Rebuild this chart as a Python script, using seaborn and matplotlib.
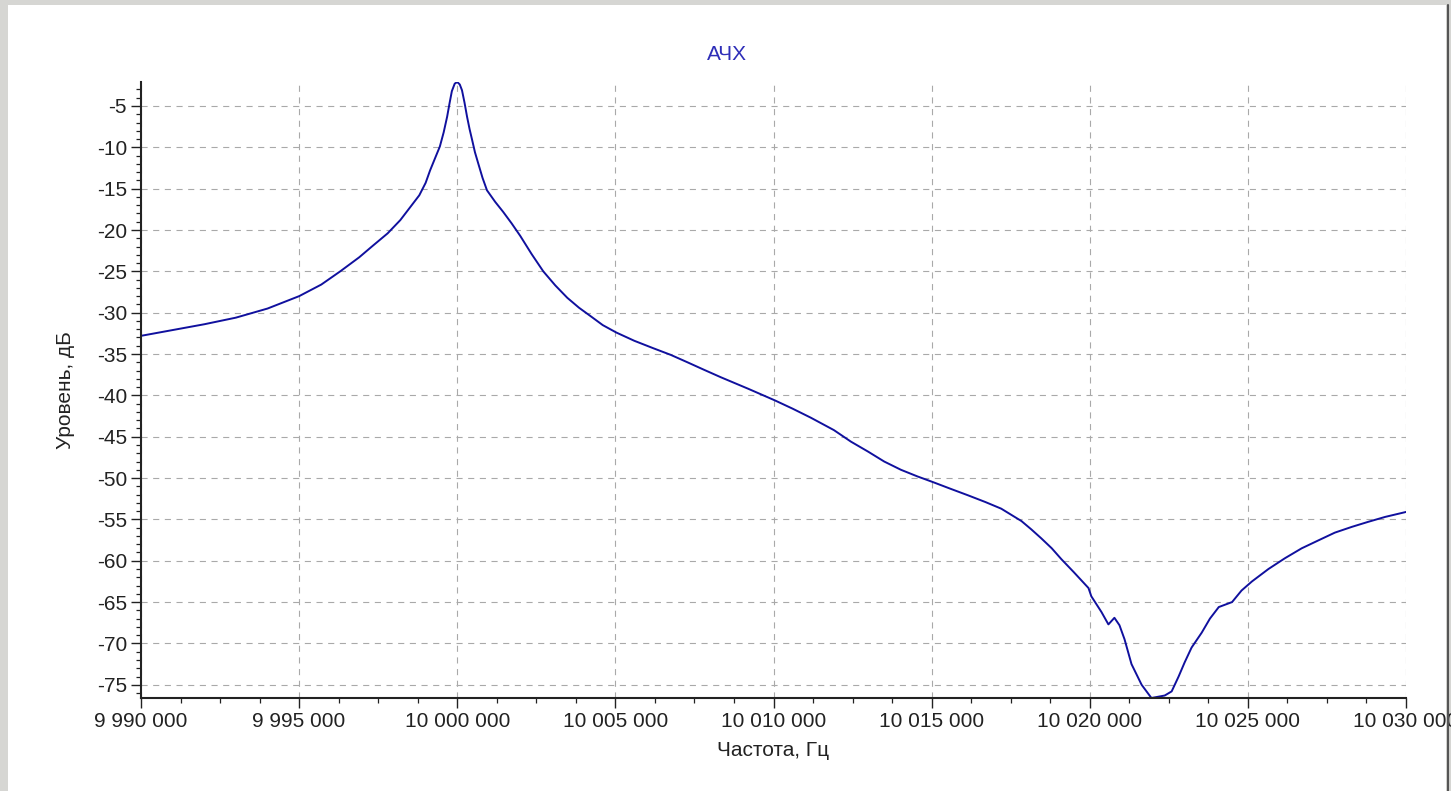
import matplotlib
matplotlib.use("Agg")
import matplotlib.pyplot as plt
import matplotlib.ticker as mticker
from matplotlib.patches import Rectangle
from matplotlib.lines import Line2D
import pandas as pd
import seaborn as sns

# Frequency response
freq_hz = [
    9990000, 9991000, 9992000, 9993000, 9994000, 9995000, 9995700, 9996300,
    9996900, 9997300, 9997800, 9998200, 9998500, 9998800, 9999000, 9999140,
    9999300, 9999450, 9999570, 9999680, 9999760, 9999830, 9999920, 10000000,
    10000080, 10000150, 10000230, 10000310, 10000390, 10000470, 10000560,
    10000660, 10000800, 10000940, 10001200, 10001450, 10001720, 10001990,
    10002350, 10002720, 10003100, 10003480, 10003850, 10004210, 10004600,
    10005030, 10005600, 10006200, 10006750, 10007280, 10007800, 10008330,
    10009200, 10010040, 10010600, 10011180, 10011910, 10012450, 10012990,
    10013500, 10014030, 10014550, 10015050, 10015600, 10016160, 10016700,
    10017200, 10017840, 10018150, 10018470, 10018800, 10019100, 10019500,
    10019960, 10020050, 10020370, 10020590, 10020780, 10020940, 10021100,
    10021320, 10021640, 10021950, 10022370, 10022590, 10022810, 10023000,
    10023220, 10023540, 10023800, 10024080, 10024500, 10024800, 10025130,
    10025650, 10026170, 10026700, 10027250, 10027750, 10028290, 10028800,
    10029340, 10030000,
]
level_db = [
    -32.8, -32.1, -31.4, -30.6, -29.5, -28.0, -26.6, -25.0,
    -23.3, -22.0, -20.4, -18.8, -17.3, -15.8, -14.3, -12.8,
    -11.3, -9.9, -8.2, -6.3, -4.6, -3.2, -2.3, -2.1,
    -2.4, -3.1, -4.6, -6.3, -7.8, -9.1, -10.6,
    -11.9, -13.7, -15.2, -16.6, -17.8, -19.2, -20.7,
    -22.9, -25.0, -26.7, -28.2, -29.4, -30.4, -31.5,
    -32.4, -33.4, -34.3, -35.1, -36.0, -36.9, -37.8,
    -39.2, -40.6, -41.6, -42.7, -44.2, -45.6, -46.8,
    -48.0, -49.0, -49.8, -50.5, -51.3, -52.1, -52.9,
    -53.7, -55.2, -56.2, -57.3, -58.5, -59.8, -61.4,
    -63.3, -64.3, -66.2, -67.7, -66.9, -67.8, -69.5,
    -72.5, -75.0, -76.6, -76.3, -75.8, -74.0, -72.3,
    -70.5, -68.7, -67.0, -65.6, -65.0, -63.6, -62.5,
    -61.0, -59.7, -58.5, -57.5, -56.6, -55.9, -55.3,
    -54.7, -54.1,
]

y_ticks = [-75, -70, -65, -60, -55, -50, -45, -40, -35, -30, -25, -20, -15, -10, -5]
x_ticks = [9990000, 9995000, 10000000, 10005000, 10010000, 10015000, 10020000, 10025000, 10030000]

df = pd.DataFrame({"freq": freq_hz, "level": level_db})

sns.set_style("ticks")
plt.rcParams["font.family"] = ["Liberation Sans", "DejaVu Sans"]

fig = plt.figure(figsize=(14.51, 7.91), dpi=100, facecolor="#d6d6d3")
# white panel inside the grey frame
fig.patches.append(Rectangle((8 / 1451, 0), 1438 / 1451, 786 / 791,
                             transform=fig.transFigure, facecolor="white",
                             edgecolor="none", zorder=-1))
fig.add_artist(Line2D([1447.5 / 1451] * 2, [0, 786 / 791], transform=fig.transFigure,
                      color="#555555", linewidth=1.5))

ax = fig.add_axes([141 / 1451, 1 - 698 / 791, 1265 / 1451, 616 / 791])
ax.set_facecolor("white")

sns.lineplot(data=df, x="freq", y="level", ax=ax, color="#10109e", linewidth=1.4)

ax.set_xlim(9990000, 10030000)
ax.set_ylim(-76.6, -2.1)
ax.set_xticks(x_ticks)
ax.set_yticks(y_ticks)
ax.xaxis.set_minor_locator(mticker.MultipleLocator(1250))
ax.yaxis.set_minor_locator(mticker.MultipleLocator(1))
ax.xaxis.set_major_formatter(mticker.FuncFormatter(lambda v, p: f"{v:,.0f}".replace(",", " ")))
ax.yaxis.set_major_formatter(mticker.FuncFormatter(lambda v, p: f"{v:.0f}"))

ax.grid(True, which="major", color="#a9a9a9", linestyle=(0, (5.5, 5.0)), linewidth=0.8)
for s in ["top", "right"]:
    ax.spines[s].set_visible(False)
for s in ["left", "bottom"]:
    ax.spines[s].set_linewidth(1.5)
    ax.spines[s].set_color("#222222")

ax.tick_params(which="major", length=7, width=1.0, labelsize=15, pad=3, colors="#222222")
ax.tick_params(which="minor", length=3.5, width=0.9, colors="#222222")

ax.set_xlabel("Частота, Гц", fontsize=15, color="#222222")
ax.set_ylabel("Уровень, дБ", fontsize=15, color="#222222")
ax.xaxis.set_label_coords(0.5, -0.07)
ax.yaxis.set_label_coords(-0.052, 0.5)

fig.text(727 / 1451, 1 - 55 / 791, "АЧХ", ha="center", va="center",
         fontsize=15, color="#2e2eb8")

fig.savefig("out.png", dpi=100, facecolor=fig.get_facecolor())
